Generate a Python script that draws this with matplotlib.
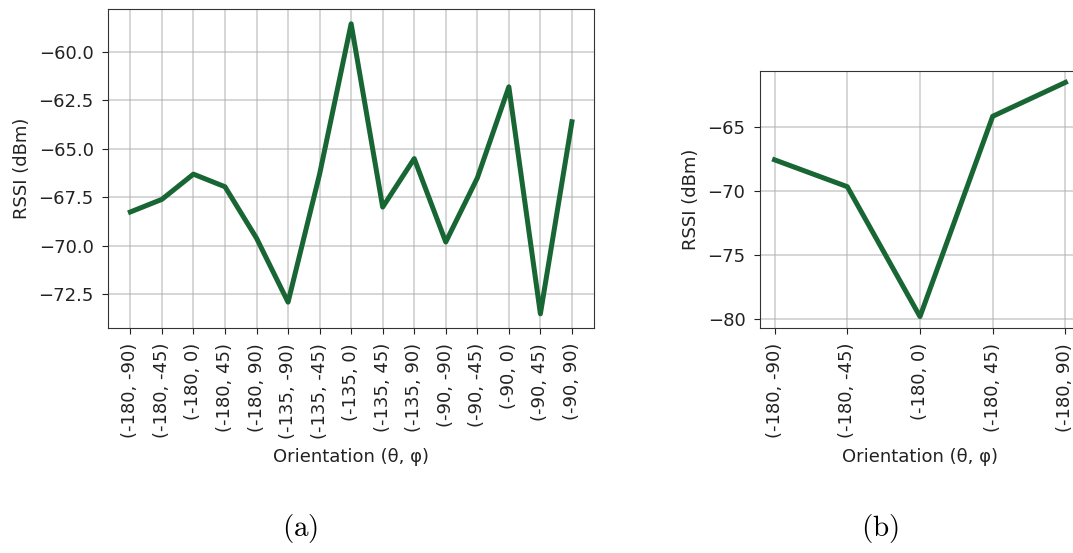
import matplotlib
matplotlib.use("Agg")
import matplotlib.pyplot as plt

# (a) full sweep of orientations
labels_a = ["(-180, -90)", "(-180, -45)", "(-180, 0)", "(-180, 45)", "(-180, 90)",
            "(-135, -90)", "(-135, -45)", "(-135, 0)", "(-135, 45)", "(-135, 90)",
            "(-90, -90)", "(-90, -45)", "(-90, 0)", "(-90, 45)", "(-90, 90)"]
rssi_a = [-68.25, -67.6, -66.3, -66.95, -69.6,
          -72.9, -66.3, -58.55, -68.0, -65.5,
          -69.8, -66.5, -61.8, -73.5, -63.6]
yticks_a = [-72.5, -70.0, -67.5, -65.0, -62.5, -60.0]

# (b) theta = -180 only
labels_b = ["(-180, -90)", "(-180, -45)", "(-180, 0)", "(-180, 45)", "(-180, 90)"]
rssi_b = [-67.55, -69.65, -79.8, -64.15, -61.5]
yticks_b = [-80, -75, -70, -65]

line_color = "#186634"
fs = 13
plt.rcParams["mathtext.fontset"] = "cm"

fig = plt.figure(figsize=(10.73, 5.53), dpi=100)
ax_a = fig.add_axes([0.1009, 0.4063, 0.4527, 0.5769])
ax_b = fig.add_axes([0.7083, 0.4063, 0.2982, 0.4659])

for ax, labels, vals, yt in [(ax_a, labels_a, rssi_a, yticks_a),
                             (ax_b, labels_b, rssi_b, yticks_b)]:
    x = list(range(len(labels)))
    ax.plot(x, vals, color=line_color, linewidth=3.6, zorder=3)
    ax.set_xticks(x)
    ax.set_xticklabels(labels, rotation=90)
    ax.set_yticks(yt)
    ax.grid(True, color="#b0b0b0", alpha=0.6, linewidth=1.2)
    ax.tick_params(labelsize=fs, colors="#222222", length=4.5, pad=6)
    ax.set_ylabel("RSSI (dBm)", fontsize=fs, color="#222222", labelpad=5)
    ax.set_xlabel("Orientation (θ, φ)", fontsize=fs, color="#222222", labelpad=7)
    for s in ax.spines.values():
        s.set_color("#333333")

fig.text(0.280, 0.03, r"$\mathrm{(a)}$", fontsize=21, ha="center")
fig.text(0.820, 0.03, r"$\mathrm{(b)}$", fontsize=21, ha="center")

fig.savefig("out.png", dpi=100)
